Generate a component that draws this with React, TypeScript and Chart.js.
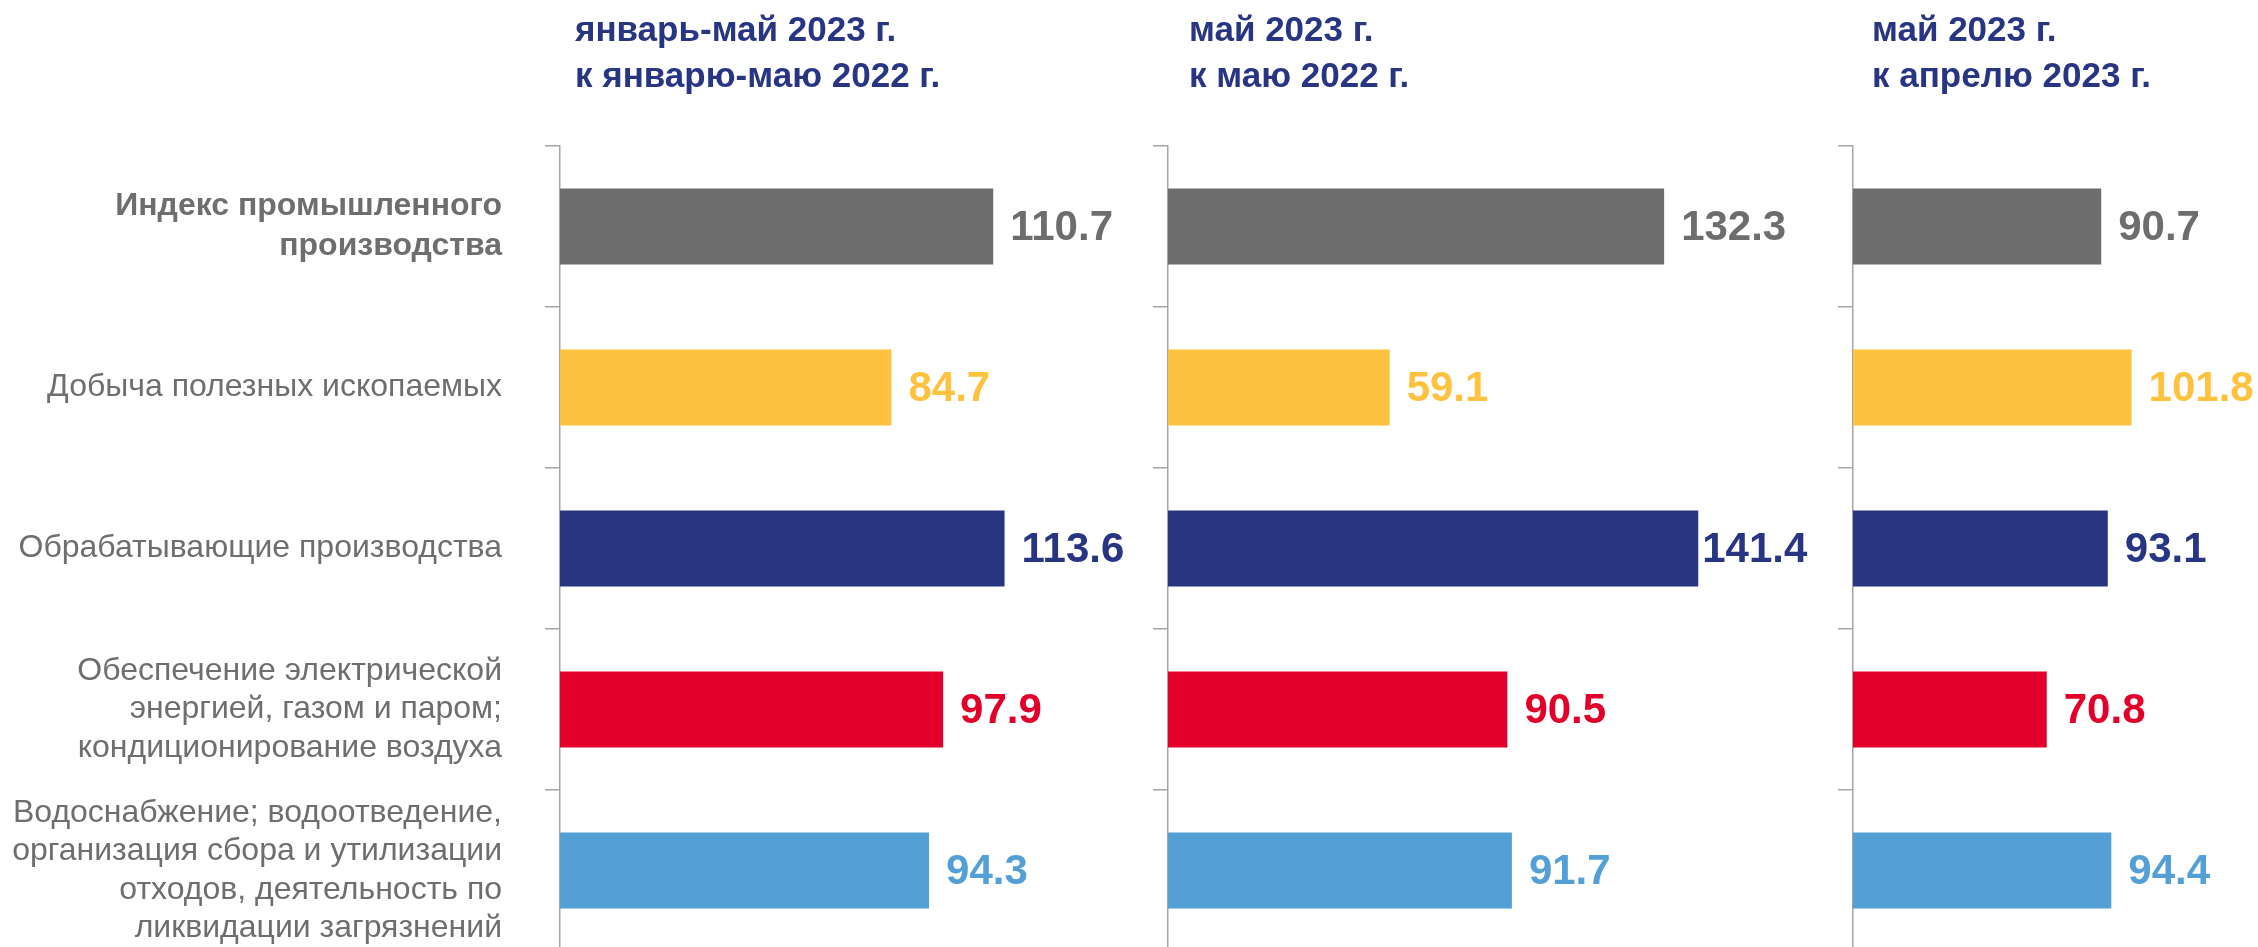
import React, { useEffect, useRef } from "react";
import { Chart, registerables } from "chart.js";

Chart.register(...registerables);

// ---------- data ----------
const categories: (string | string[])[] = [
  ["Индекс промышленного", "производства"],
  "Добыча полезных ископаемых",
  "Обрабатывающие производства",
  ["Обеспечение электрической", "энергией, газом и паром;", "кондиционирование воздуха"],
  ["Водоснабжение; водоотведение,", "организация сбора и утилизации", "отходов, деятельность по", "ликвидации загрязнений"],
];

const titleJanMay = ["январь-май 2023 г.", "к январю-маю 2022 г."];
const titleMayYoY = ["май 2023 г.", "к маю 2022 г."];
const titleMayMoM = ["май 2023 г.", "к апрелю 2023 г."];

const valuesJanMay = [110.7, 84.7, 113.6, 97.9, 94.3];
const valuesMayYoY = [132.3, 59.1, 141.4, 90.5, 91.7];
const valuesMayMoM = [90.7, 101.8, 93.1, 70.8, 94.4];

const barColors = ["#6D6D6D", "#FFC23F", "#283583", "#E2002B", "#539FD6"];

// ---------- styles ----------
const FONT = "'Liberation Sans', Arial, Helvetica, sans-serif";
const TITLE_COLOR = "#283583";
const LABEL_COLOR = "#6E6E6E";
const AXIS_COLOR = "#A6A6A6";
const TOP = 146;
const CANVAS_H = 951;

type Panel = {
  left: number;
  width: number;
  axisWidth: number;
  xMax: number;
  values: number[];
  title: string[];
  showLabels: boolean;
  titleOffset: number;
  gapOverride?: Record<number, number>;
};

const panels: Panel[] = [
  { left: 0, width: 1147, axisWidth: 560, xMax: 150, values: valuesJanMay, title: titleJanMay, showLabels: true, titleOffset: 15 },
  { left: 1148, width: 680, axisWidth: 20, xMax: 176, values: valuesMayYoY, title: titleMayYoY, showLabels: false, titleOffset: 21, gapOverride: { 2: 4 } },
  { left: 1833, width: 425, axisWidth: 20, xMax: 148, values: valuesMayMoM, title: titleMayMoM, showLabels: false, titleOffset: 19 },
];

function PanelChart({ p }: { p: Panel }) {
  const ref = useRef<HTMLCanvasElement | null>(null);
  useEffect(() => {
    if (!ref.current) return;
    const overlay = {
      id: "overlay",
      afterDatasetsDraw(chart: any) {
        const { ctx, chartArea } = chart;
        const meta = chart.getDatasetMeta(0);
        ctx.save();
        ctx.font = `bold 42px ${FONT}`;
        ctx.textBaseline = "middle";
        ctx.textAlign = "left";
        meta.data.forEach((bar: any, i: number) => {
          ctx.fillStyle = barColors[i];
          const gap = p.gapOverride && p.gapOverride[i] !== undefined ? p.gapOverride[i] : 17;
          ctx.fillText(p.values[i].toFixed(1), bar.x + gap, bar.y + 2);
        });
        ctx.font = `bold 35px ${FONT}`;
        ctx.fillStyle = TITLE_COLOR;
        p.title.forEach((line, k) => {
          ctx.fillText(line, chartArea.left + p.titleOffset, 31 + k * 46);
        });
        ctx.restore();
      },
    };
    const chart = new Chart(ref.current, {
      type: "bar",
      data: {
        labels: categories,
        datasets: [
          {
            data: p.values,
            backgroundColor: barColors,
            borderWidth: 0,
            barPercentage: 0.472,
            categoryPercentage: 1,
          },
        ],
      },
      options: {
        indexAxis: "y",
        responsive: false,
        animation: false,
        devicePixelRatio: 1,
        layout: { padding: { top: TOP, bottom: 0, left: 0, right: 0 } },
        plugins: { legend: { display: false }, tooltip: { enabled: false }, title: { display: false } },
        scales: {
          x: { display: false, min: 0, max: p.xMax },
          y: {
            afterFit: (scale: any) => {
              scale.width = p.axisWidth;
              scale.paddingTop = 0;
              scale.paddingBottom = 0;
            },
            border: { display: true, color: AXIS_COLOR, width: 1.5 },
            grid: {
              display: true,
              drawOnChartArea: false,
              drawTicks: true,
              tickLength: 15,
              color: AXIS_COLOR,
              lineWidth: 1.5,
              offset: true,
            },
            ticks: {
              display: p.showLabels,
              autoSkip: false,
              padding: 43,
              color: LABEL_COLOR,
              font: (c: any) => ({
                family: FONT,
                size: 32,
                weight: c.index === 0 ? "bold" : "normal",
                lineHeight: c.index === 0 ? 1.25 : 1.2,
              }),
            },
          },
        },
      },
      plugins: [overlay],
    } as any);
    return () => chart.destroy();
  }, [p]);
  return (
    <canvas
      ref={ref}
      width={p.width}
      height={CANVAS_H}
      style={{ position: "absolute", left: p.left, top: 0, width: p.width, height: CANVAS_H }}
    />
  );
}

export default function App() {
  return (
    <div
      style={{
        position: "absolute",
        left: 0,
        top: 0,
        width: 2258,
        height: 947,
        overflow: "hidden",
        background: "#FFFFFF",
      }}
    >
      {panels.map((p, i) => (
        <PanelChart key={i} p={p} />
      ))}
    </div>
  );
}
